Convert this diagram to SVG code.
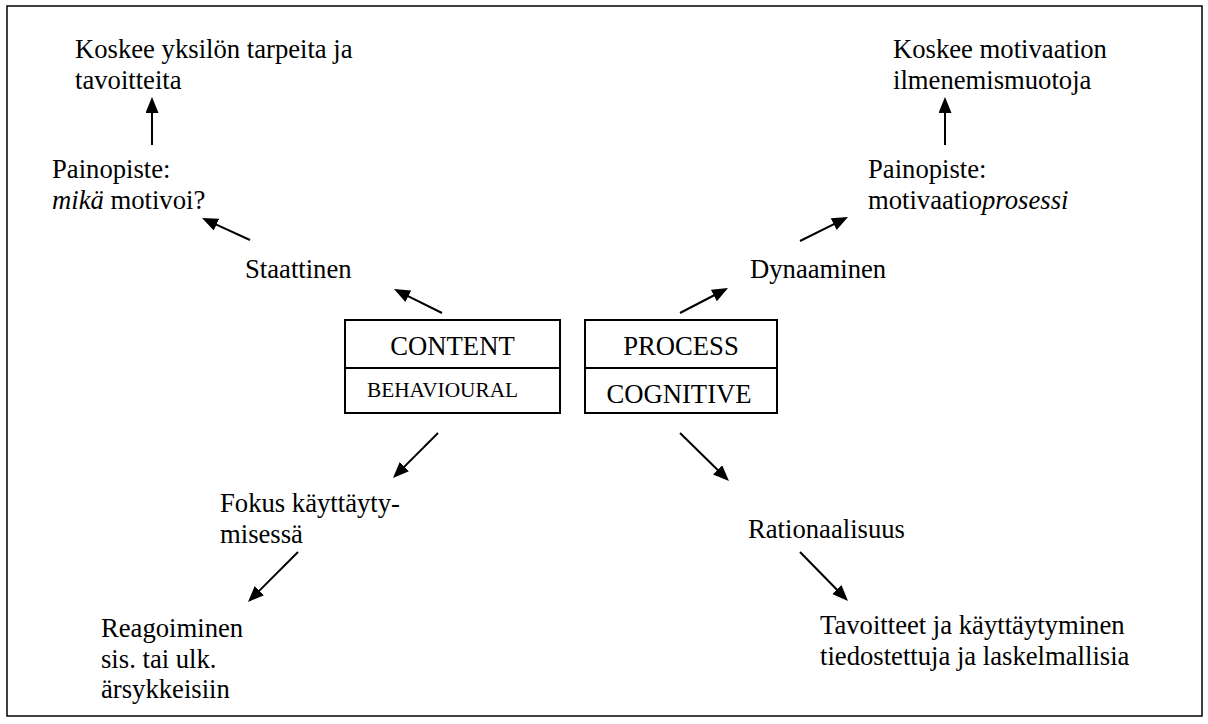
<svg xmlns="http://www.w3.org/2000/svg" width="1208" height="724" viewBox="0 0 1208 724">
<style>
  text { font-family: "Liberation Serif", "Times New Roman", serif; font-size: 26.67px; fill: #000; }
  .small { font-size: 21.3px; }
  .box { fill: #fff; stroke: #000; stroke-width: 2; }
  .arrow { stroke: #000; stroke-width: 2; fill: none; marker-end: url(#ah); }
</style>
<defs>
  <marker id="ah" markerUnits="userSpaceOnUse" markerWidth="18" markerHeight="14" refX="2" refY="6.5" orient="auto">
    <path d="M0,0 L16,6.5 L0,13 z" fill="#000"/>
  </marker>
</defs>
<rect x="0" y="0" width="1208" height="724" fill="#fff"/>
<rect id="frame" x="7" y="6" width="1195" height="710" fill="none" stroke="#000" stroke-width="1.5"/>

<g id="content-box">
  <rect class="box" x="345" y="320" width="215" height="93"/>
  <line x1="345" y1="368" x2="560" y2="368" stroke="#000" stroke-width="2"/>
  <text x="452.5" y="355" text-anchor="middle">CONTENT</text>
  <text class="small" x="367" y="397">BEHAVIOURAL</text>
</g>
<g id="process-box">
  <rect class="box" x="585" y="320" width="192" height="93"/>
  <line x1="585" y1="368" x2="777" y2="368" stroke="#000" stroke-width="2"/>
  <text x="681" y="355" text-anchor="middle">PROCESS</text>
  <text x="679" y="403" text-anchor="middle">COGNITIVE</text>
</g>

<g id="koskee-left">
  <text x="75" y="58">Koskee yksilön tarpeita ja</text>
  <text x="75" y="88.5">tavoitteita</text>
</g>
<g id="painopiste-left">
  <text x="52" y="178">Painopiste:</text>
  <text x="52" y="208.5"><tspan font-style="italic">mikä</tspan> motivoi?</text>
</g>
<g id="staattinen">
  <text x="245" y="278">Staattinen</text>
</g>
<g id="koskee-right">
  <text x="893" y="58">Koskee motivaation</text>
  <text x="893" y="88.5">ilmenemismuotoja</text>
</g>
<g id="painopiste-right">
  <text x="868" y="178">Painopiste:</text>
  <text x="868" y="208.5">motivaatio<tspan font-style="italic">prosessi</tspan></text>
</g>
<g id="dynaaminen">
  <text x="750" y="278">Dynaaminen</text>
</g>
<g id="fokus">
  <text x="220" y="512">Fokus käyttäyty-</text>
  <text x="220" y="542.5">misessä</text>
</g>
<g id="reagoiminen">
  <text x="101" y="637">Reagoiminen</text>
  <text x="101" y="667.5">sis. tai ulk.</text>
  <text x="101" y="698">ärsykkeisiin</text>
</g>
<g id="rationaalisuus">
  <text x="748" y="538">Rationaalisuus</text>
</g>
<g id="tavoitteet">
  <text x="820" y="634">Tavoitteet ja käyttäytyminen</text>
  <text x="820" y="664.5">tiedostettuja ja laskelmallisia</text>
</g>

<g id="connectors">
  <line class="arrow" x1="152" y1="145" x2="152" y2="111"/>
  <line class="arrow" x1="945" y1="145" x2="945" y2="111"/>
  <line class="arrow" x1="250" y1="240" x2="214.7" y2="223.8"/>
  <line class="arrow" x1="800" y1="241" x2="835.5" y2="223.3"/>
  <line class="arrow" x1="442" y1="313" x2="406.5" y2="295.3"/>
  <line class="arrow" x1="680" y1="313" x2="715.6" y2="294.5"/>
  <line class="arrow" x1="438" y1="433" x2="402.9" y2="468.1"/>
  <line class="arrow" x1="298" y1="552" x2="257.9" y2="592.1"/>
  <line class="arrow" x1="680" y1="433" x2="719" y2="471.2"/>
  <line class="arrow" x1="800" y1="552" x2="838.2" y2="591"/>
</g>
</svg>
